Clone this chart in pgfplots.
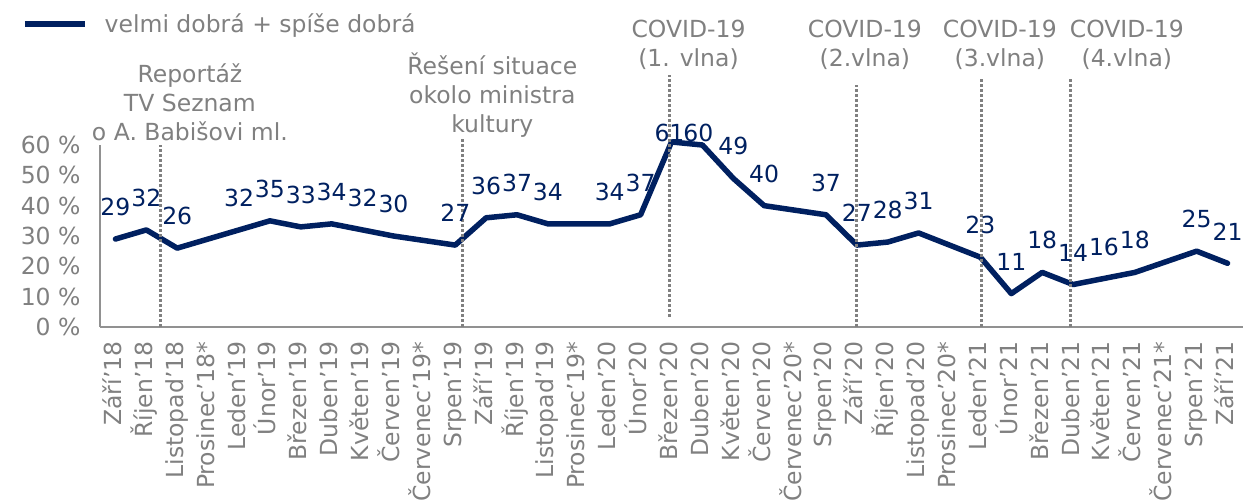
\documentclass[border=0pt]{standalone}
\usepackage{fontspec}
\setmainfont{DejaVu Sans}
\usepackage{pgfplots}
\pgfplotsset{compat=1.18}

\definecolor{navy}{RGB}{0,32,96}
\definecolor{txtgray}{RGB}{128,128,128}
\definecolor{axgray}{RGB}{145,145,145}

\newcommand{\chartfont}{\fontsize{23.5bp}{29bp}\selectfont}

\begin{document}
\begin{tikzpicture}
\begin{axis}[
    name=ax,
    scale only axis,
    width=1143bp, height=182bp,
    xmin=-0.5, xmax=36.5, ymin=0, ymax=60,
    axis lines=left,
    axis line style={-, axgray, line width=1.5bp},
    clip=false,
    xtick={0,...,36},
    xticklabels={Září’18, Říjen’18, Listopad’18, Prosinec’18*, Leden’19, Únor’19,
        Březen’19, Duben’19, Květen’19, Červen’19, Červenec’19*, Srpen’19,
        Září’19, Říjen’19, Listopad’19, Prosinec’19*, Leden’20, Únor’20,
        Březen’20, Duben’20, Květen’20, Červen’20, Červenec’20*, Srpen’20,
        Září’20, Říjen’20, Listopad’20, Prosinec’20*, Leden’21, Únor’21,
        Březen’21, Duben’21, Květen’21, Červen’21, Červenec’21*, Srpen’21, Září’21},
    ytick={0,10,...,60},
    yticklabel={\pgfmathprintnumber{\tick} \%},
    /pgf/number format/assume math mode=true,
    major tick length=0pt,
    ticklabel style={text=txtgray, font=\chartfont},
    xticklabel style={rotate=90, anchor=east, text height=17bp, text depth=5bp},
    xticklabel shift=11bp,
    yticklabel shift=16bp,
    legend style={at={(-0.0682,1.665)}, anchor=west, draw=none, fill=none,
        font=\chartfont, text=txtgray, inner sep=0pt, column sep=15bp},
    legend image code/.code={\draw[#1, line width=5.5bp, line cap=butt] (0bp,0bp) -- (60bp,0bp);},
]

% months marked * have no value: the line runs straight across them
\addplot[navy, line width=5.5bp, mark=none, line join=round, line cap=round] coordinates {
    (0,29) (1,32) (2,26) (4,32) (5,35) (6,33) (7,34) (8,32) (9,30)
    (11,27) (12,36) (13,37) (14,34) (16,34) (17,37) (18,61) (19,60)
    (20,49) (21,40) (23,37) (24,27) (25,28) (26,31) (28,23) (29,11)
    (30,18) (31,14) (32,16) (33,18) (35,25) (36,21)
};
\addlegendentry{velmi dobrá + spíše dobrá}

% data labels
\addplot[draw=none, mark=none, forget plot, point meta=y,
    nodes near coords={\pgfmathprintnumber{\pgfplotspointmeta}},
    nodes near coords style={anchor=center, yshift=32bp, text=navy,
        font=\chartfont, inner sep=0pt}] coordinates {
    (0,29) (1,32) (2,26) (4,32) (5,35) (6,33) (7,34) (8,32) (9,30)
    (11,27) (12,36) (13,37) (14,34) (16,34) (17,37)
    (20,49) (21,40) (23,37) (24,27) (25,28) (26,31) (28,23) (29,11)
    (30,18) (31,14) (32,16) (33,18) (35,25) (36,21)
};
\addplot[draw=none, mark=none, forget plot, point meta=y,
    nodes near coords={\pgfmathprintnumber{\pgfplotspointmeta}},
    nodes near coords style={anchor=center, yshift=8.7bp, xshift=-2bp, text=navy,
        font=\chartfont, inner sep=0pt}] coordinates {(18,61)};
\addplot[draw=none, mark=none, forget plot, point meta=y,
    nodes near coords={\pgfmathprintnumber{\pgfplotspointmeta}},
    nodes near coords style={anchor=center, yshift=11.7bp, xshift=-4bp, text=navy,
        font=\chartfont, inner sep=0pt}] coordinates {(19,60)};

% event markers
\begin{scope}[txtgray, line width=3bp, dash pattern=on 2.5bp off 2.5bp]
    \draw (axis cs:1.45,0) -- (axis cs:1.45,60);
    \draw (axis cs:11.25,0) -- (axis cs:11.25,62.4);
    \draw (axis cs:17.92,3.3) -- (axis cs:17.92,83.2);
    \draw (axis cs:24.0,0) -- (axis cs:24.0,79.9);
    \draw (axis cs:28.05,0) -- (axis cs:28.05,82.2);
    \draw (axis cs:30.9,0) -- (axis cs:30.9,82.2);
\end{scope}

\begin{scope}[every node/.style={text=txtgray, align=center, font=\chartfont, inner sep=0pt}]
    \node at (axis cs:2.41,74.2) {Reportáž\\TV Seznam\\o A. Babišovi ml.};
    \node at (axis cs:12.2,76.6) {Řešení situace\\okolo ministra\\kultury};
    \node at (axis cs:18.55,93.1) {COVID-19\\(1. vlna)};
    \node at (axis cs:24.26,93.1) {COVID-19\\(2.vlna)};
    \node at (axis cs:28.63,93.1) {COVID-19\\(3.vlna)};
    \node at (axis cs:32.74,93.1) {COVID-19\\(4.vlna)};
\end{scope}
\end{axis}

\pgfresetboundingbox
\path[use as bounding box] ([xshift=-100bp,yshift=-177bp]ax.south west)
    rectangle ([xshift=8bp,yshift=145bp]ax.north east);
\end{tikzpicture}
\end{document}
